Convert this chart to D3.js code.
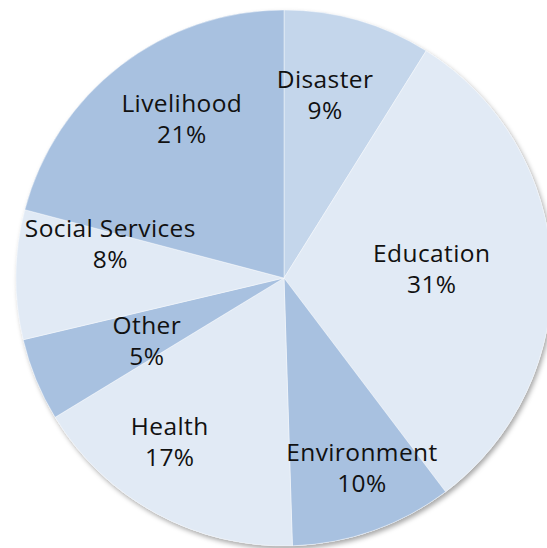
<!DOCTYPE html>
<html lang="en">
<head>
  <meta charset="UTF-8">
  <title>Pie</title>
  <script src="https://cdn.jsdelivr.net/npm/d3@7"></script>
  <style>
    body{ margin:0; background:#fff; }
    .lbl{ font-family: "Open Sans", Lato, sans-serif; font-size:24.5px; letter-spacing:0.4px; fill:#111; }
  </style>
</head>
<body>
  <svg></svg>
  <script>
  // data, clockwise from 12 o'clock
  var categories = ["Disaster", "Education", "Environment", "Health", "Other", "Social Services", "Livelihood"];
  var values = [8.9, 30.8, 9.8, 16.8, 5.0, 7.8, 20.9];
  var colors = ["#c4d6eb", "#e1eaf5", "#a8c1e0", "#e1eaf5", "#a8c1e0", "#e1eaf5", "#a8c1e0"];

  // label placement: [radius, angle nudge in degrees]
  var labelPlace = [[188, -3.4], [148, -1], [205, -2.9], [200, 6.4], [151, -2.4], [177, 10.4], [189, 4.9]];

  var W = 547, H = 548, cx = 284, cy = 278, R = 268;

  var svg = d3.select("svg").attr("width", W).attr("height", H);

  var defs = svg.append("defs");
  var f = defs.append("filter").attr("id", "shadow")
    .attr("x", "-10%").attr("y", "-10%").attr("width", "120%").attr("height", "120%");
  f.append("feDropShadow").attr("dx", 2).attr("dy", 3).attr("stdDeviation", 2.5)
    .attr("flood-color", "#000").attr("flood-opacity", 0.35);

  var data = categories.map(function(c, i){ return {name: c, value: values[i], i: i}; });

  var pie = d3.pie().sort(null).value(function(d){ return d.value; });
  var arc = d3.arc().innerRadius(0).outerRadius(R);
  var arcs = pie(data);

  var g = svg.append("g").attr("transform", "translate(" + cx + "," + cy + ")");

  g.append("circle").attr("r", R).attr("fill", "#e1eaf5").attr("filter", "url(#shadow)");

  g.selectAll("path.slice").data(arcs).enter().append("path")
    .attr("class", "slice")
    .attr("d", arc)
    .attr("fill", function(d){ return colors[d.data.i]; })
    .attr("stroke", "#ffffff")
    .attr("stroke-opacity", 0.6)
    .attr("stroke-width", 0.7);

  var fmt = function(v){ return Math.round(v) + "%"; };

  var lab = g.selectAll("text.lbl").data(arcs).enter().append("text")
    .attr("class", "lbl")
    .attr("text-anchor", "middle")
    .attr("transform", function(d){
      var p = labelPlace[d.data.i];
      var a = (d.startAngle + d.endAngle) / 2 + p[1] * Math.PI / 180;
      return "translate(" + (p[0] * Math.sin(a)) + "," + (-p[0] * Math.cos(a)) + ")";
    });
  lab.append("tspan").attr("x", 0).attr("y", -7).text(function(d){ return d.data.name; });
  lab.append("tspan").attr("x", 0).attr("y", 24).text(function(d){ return fmt(d.data.value); });
  </script>
</body>
</html>
